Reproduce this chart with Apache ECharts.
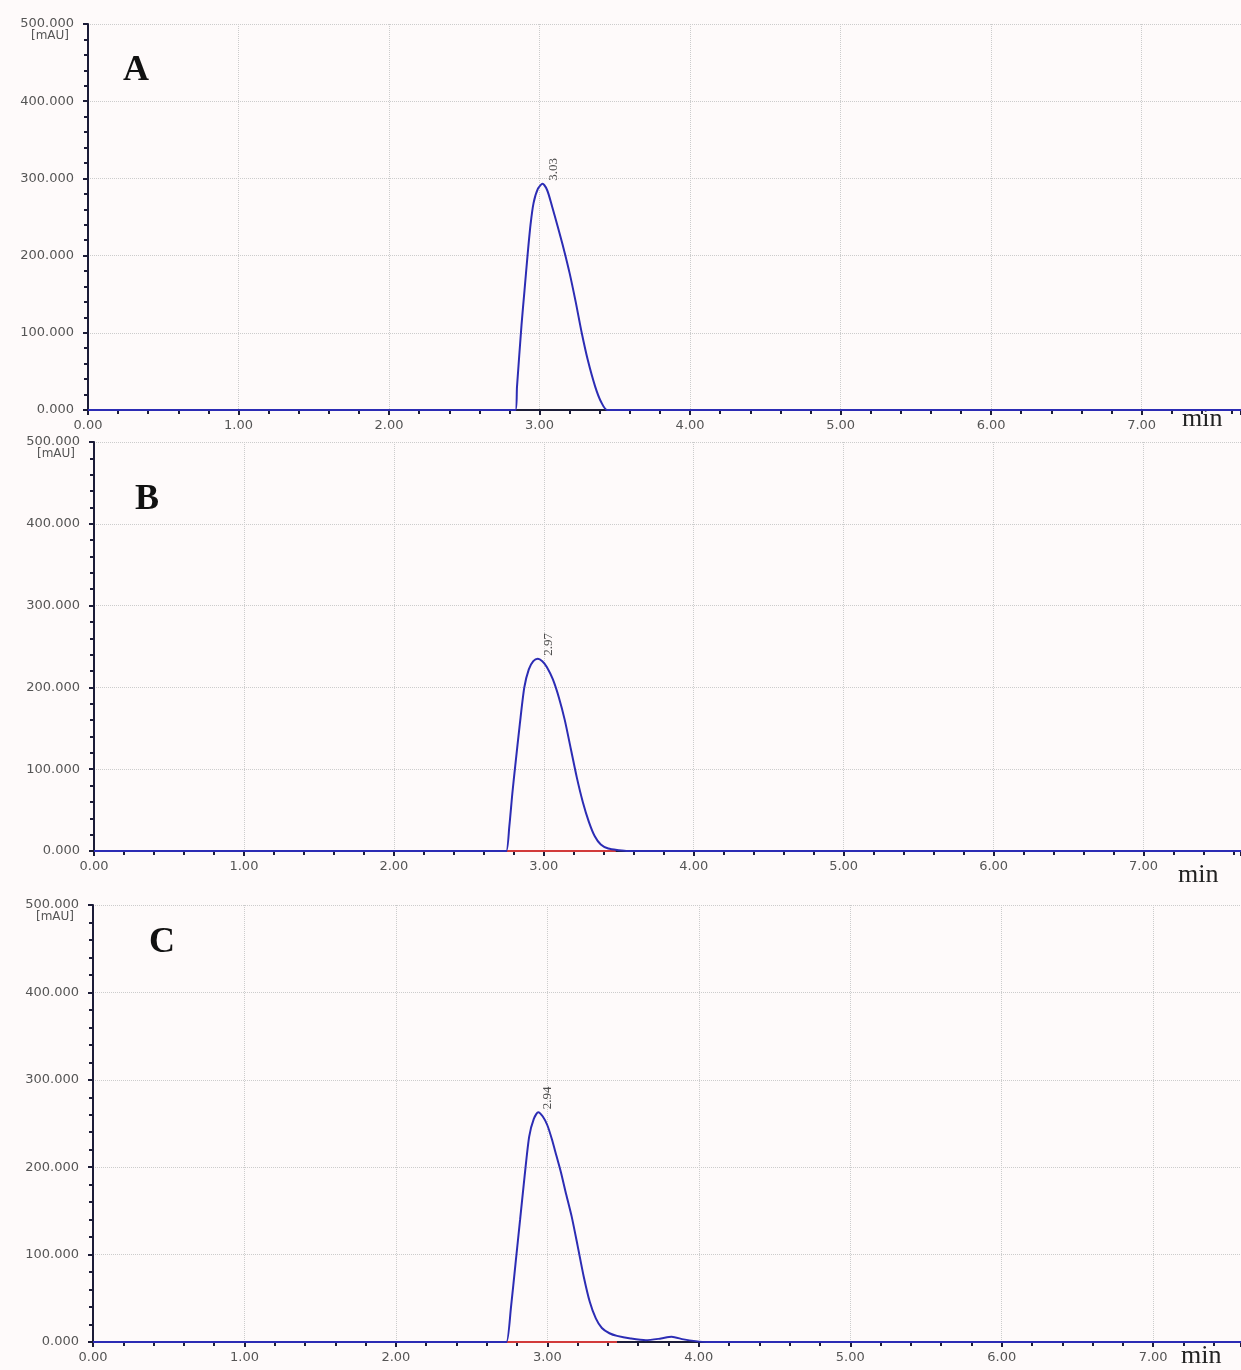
<!DOCTYPE html>
<html>
<head>
<meta charset="utf-8">
<title>Chromatograms A B C</title>
<script src="https://cdn.jsdelivr.net/npm/echarts@6/dist/echarts.min.js"></script>
<style>
    html, body { margin: 0; padding: 0; background: #fefafa; }
    #main { width: 1241px; height: 1370px; }
</style>
</head>
<body>
<div id="main"></div>
<script>
// 色谱数据 (min, mAU)
var timeA = [0, 2.80, 2.84, 2.85, 2.88, 2.90, 2.92, 2.94, 2.96, 2.99, 3.02, 3.05, 3.08, 3.12, 3.16, 3.20, 3.24, 3.28, 3.32, 3.37, 3.41, 3.45, 7.66];
var signalA = [0, 0, 0, 30, 110, 155, 200, 240, 268, 287, 293, 285, 266, 238, 209, 177, 140, 100, 65, 30, 10, 0, 0];

var timeB = [0, 2.72, 2.75, 2.77, 2.79, 2.81, 2.84, 2.87, 2.90, 2.93, 2.96, 2.99, 3.02, 3.06, 3.10, 3.14, 3.18, 3.22, 3.26, 3.30, 3.34, 3.38, 3.43, 3.50, 3.56, 7.65];
var signalB = [0, 0, 0, 30, 70, 105, 155, 200, 222, 232, 235, 232, 225, 210, 188, 160, 125, 90, 60, 36, 18, 8, 3, 1, 0, 0];

var timeC = [0, 2.70, 2.73, 2.76, 2.79, 2.82, 2.85, 2.88, 2.91, 2.94, 2.97, 3.00, 3.03, 3.06, 3.09, 3.12, 3.16, 3.20, 3.24, 3.28, 3.32, 3.36, 3.41, 3.46, 3.55, 3.65, 3.75, 3.82, 3.90, 3.98, 4.05, 7.58];
var signalC = [0, 0, 0, 40, 90, 140, 190, 235, 255, 263, 258, 248, 232, 213, 194, 172, 144, 110, 75, 46, 27, 16, 10, 7, 4, 2, 4, 6, 3, 1, 0, 0];

var panelNames = ['A', 'B', 'C'];
var peakTimes = [3.03, 2.97, 2.94];
var peakHeights = [293, 235, 263];
var peakLabels = ['3.03', '2.97', '2.94'];
// 积分基线 (红色)
var baseStart = [null, 2.75, 2.73];
var baseEnd = [null, 3.48, 3.46];
var xMax = [7.66, 7.65, 7.58];

var times = [timeA, timeB, timeC];
var signals = [signalA, signalB, signalC];

var myChart = echarts.init(document.getElementById('main'));

var gridPos = [
    { left: 88, top: 24, right: 0, height: 386 },
    { left: 94, top: 442, right: 0, height: 409 },
    { left: 93, top: 905, right: 0, height: 437 }
];

var axisColor = '#1c1c38';
var labelFont = { color: '#555', fontFamily: 'DejaVu Sans', fontSize: 13 };
var gridLine = { show: true, lineStyle: { color: '#cccccc', type: 'dotted', width: 1 } };

var xAxes = [], yAxes = [], series = [];

for (var i = 0; i < 3; i++) {
    xAxes.push({
        gridIndex: i,
        type: 'value',
        min: 0,
        max: xMax[i],
        interval: 1,
        axisLine: { show: true, onZero: false, lineStyle: { color: axisColor, width: 2 } },
        axisTick: { show: true, length: 5, lineStyle: { color: axisColor, width: 2 } },
        minorTick: { show: true, splitNumber: 5, length: 4, lineStyle: { color: axisColor, width: 2 } },
        axisLabel: Object.assign({ margin: 9, showMaxLabel: false, formatter: function (v) { return v.toFixed(2); } }, labelFont),
        splitLine: gridLine
    });
    yAxes.push({
        gridIndex: i,
        type: 'value',
        min: 0,
        max: 500,
        interval: 100,
        name: '[mAU]',
        nameLocation: 'end',
        nameGap: -12,
        nameMoveOverlap: false,
        nameTextStyle: { color: '#555', fontFamily: 'DejaVu Sans', fontSize: 12, align: 'right', verticalAlign: 'middle', padding: [0, 19, 0, 0] },
        axisLine: { show: true, lineStyle: { color: axisColor, width: 2 } },
        axisTick: { show: true, length: 5, lineStyle: { color: axisColor, width: 2 } },
        minorTick: { show: true, splitNumber: 5, length: 4, lineStyle: { color: axisColor, width: 2 } },
        axisLabel: Object.assign({ margin: 14, formatter: function (v) { return v.toFixed(3); } }, labelFont),
        splitLine: gridLine
    });

    var pts = times[i].map(function (t, k) { return [t, signals[i][k]]; });

    if (baseStart[i] !== null) {
        series.push({
            type: 'line',
            xAxisIndex: i,
            yAxisIndex: i,
            data: [[baseStart[i], 0], [baseEnd[i], 0]],
            showSymbol: false,
            silent: true,
            z: 2,
            lineStyle: { color: '#d23a3a', width: 2 }
        });
    }

    series.push({
        type: 'line',
        xAxisIndex: i,
        yAxisIndex: i,
        data: pts,
        showSymbol: false,
        smooth: 0.25,
        silent: true,
        z: 3,
        lineStyle: { color: '#2c2cb4', width: 2 }
    });

    // 峰保留时间标注
    series.push({
        type: 'scatter',
        xAxisIndex: i,
        yAxisIndex: i,
        symbolSize: 0,
        silent: true,
        z: 4,
        data: [[peakTimes[i], peakHeights[i]]],
        label: {
            show: true,
            formatter: peakLabels[i],
            position: 'top',
            distance: 3,
            rotate: 90,
            align: 'left',
            verticalAlign: 'middle',
            offset: [0, 9],
            fontFamily: 'Liberation Serif',
            fontSize: 13,
            color: '#222'
        }
    });
}

var letterPos = [[123, 53], [135, 482], [149, 925]];
var minPos = [[1182, 406], [1178, 862], [1181, 1343]];
var graphics = [];
for (var j = 0; j < 3; j++) {
    graphics.push({
        type: 'text', left: letterPos[j][0], top: letterPos[j][1],
        style: { text: panelNames[j], font: 'bold 36px "Liberation Serif"', fill: '#111' }
    });
    graphics.push({
        type: 'text', left: minPos[j][0], top: minPos[j][1],
        style: { text: 'min', font: '26px "Liberation Serif"', fill: '#222' }
    });
}

var option = {
    backgroundColor: '#fefafa',
    animation: false,
    grid: gridPos,
    xAxis: xAxes,
    yAxis: yAxes,
    series: series,
    graphic: graphics
};

myChart.setOption(option);
</script>
</body>
</html>
